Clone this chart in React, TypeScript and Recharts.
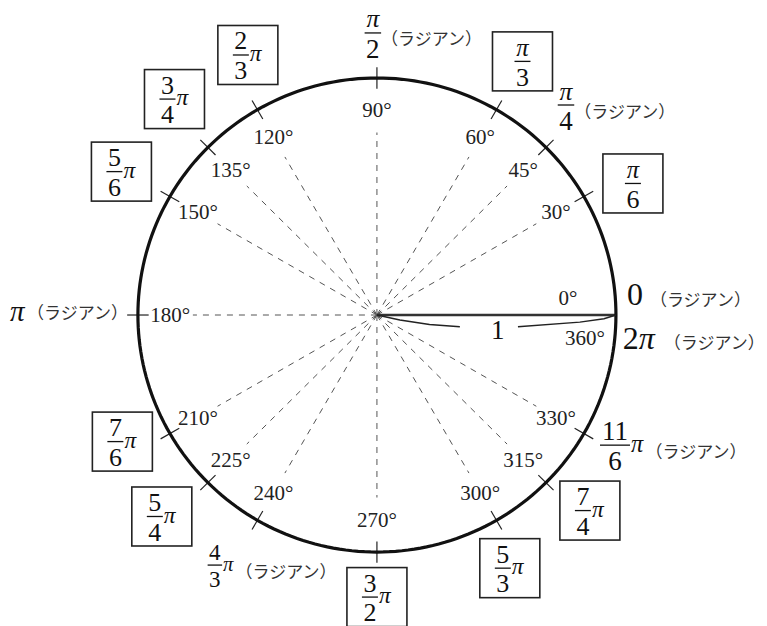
import React from "react";
import {
  ScatterChart,
  Scatter,
  XAxis,
  YAxis,
  ReferenceLine,
  ReferenceDot,
} from "recharts";

const W = 767;
const H = 626;
// unit circle in data space; domains set so that the centre lands at (377, 315)
const X_DOMAIN = [-1.577, 1.632];
const Y_DOMAIN = [-1.312, 1.329];

const SERIF = "'Liberation Serif', 'DejaVu Serif', serif";
const CJK = "'Noto Sans CJK JP', 'Noto Sans CJK SC', sans-serif";
const RAD = "（ラジアン）";
const RAD_FS = 17;

// angles marked on the circle (degrees)
const ANGLES = [30, 45, 60, 90, 120, 135, 150, 180, 210, 225, 240, 270, 300, 315, 330];
const DEGREE_LABELS = [
  "30°", "45°", "60°", "90°", "120°", "135°", "150°", "180°",
  "210°", "225°", "240°", "270°", "300°", "315°", "330°",
];
const ZERO_LABELS = ["0°", "360°"];
const ZERO_LABEL_POS = [
  { x: 0.799, y: 0.072 },
  { x: 0.87, y: -0.097 },
];

// radians written in boxes
const BOX_NUM = ["π", "2", "3", "5", "π", "7", "5", "3", "5", "7"];
const BOX_DEN = ["3", "3", "4", "6", "6", "6", "4", "2", "3", "4"];
const BOX_PI = [false, true, true, true, false, true, true, true, true, true];
const BOX_POS = [
  { x: 0.609, y: 1.07 },
  { x: -0.54, y: 1.097 },
  { x: -0.847, y: 0.911 },
  { x: -1.069, y: 0.605 },
  { x: 1.071, y: 0.555 },
  { x: -1.065, y: -0.534 },
  { x: -0.9, y: -0.85 },
  { x: 0, y: -1.19 },
  { x: 0.556, y: -1.068 },
  { x: 0.891, y: -0.825 },
];

// radians written out with (ラジアン)
const OPEN_NUM = ["π", "π", "11", "4"];
const OPEN_DEN = ["2", "4", "6", "3"];
const OPEN_PI = [false, false, true, true];
const OPEN_POS = [
  { x: -0.017, y: 1.19 },
  { x: 0.791, y: 0.886 },
  { x: 0.996, y: -0.549 },
  { x: -0.678, y: -1.055 },
];

// the "1" brace under the radius
const BRACE_LEFT = [
  { x: 0, y: 0 },
  { x: 0.096, y: -0.021 },
  { x: 0.22, y: -0.04 },
  { x: 0.347, y: -0.05 },
];
const BRACE_RIGHT = [
  { x: 0.59, y: -0.05 },
  { x: 0.849, y: -0.03 },
  { x: 0.95, y: -0.016 },
  { x: 1, y: 0 },
];

const CIRCLE = Array.from({ length: 241 }, (_, i) => ({
  x: Math.cos((i * Math.PI) / 120),
  y: Math.sin((i * Math.PI) / 120),
}));

const RAY_END = 0.77;
const LABEL_R = 0.865;
const TICK_IN = 0.955;
const TICK_OUT = 1.045;

const rad = (deg: number) => (deg * Math.PI) / 180;
const noDot = () => <g />;

function RadText({ x, y }: any) {
  return (
    <text x={x} y={y} dominantBaseline="central" fontFamily={CJK} fontSize={RAD_FS} fill="#333">
      {RAD}
    </text>
  );
}

function Frac({ x, y, num, den, pi, fs, showRad }: any) {
  const w = Math.max(num.length, den.length) * fs * 0.5 + 3;
  const isPi = num === "π";
  return (
    <g fontFamily={SERIF} fill="#111">
      <text
        x={x}
        y={y - 5.5}
        textAnchor="middle"
        fontSize={isPi ? fs * 0.95 : fs}
        fontStyle={isPi ? "italic" : "normal"}
      >
        {num}
      </text>
      <line x1={x - w / 2} x2={x + w / 2} y1={y} y2={y} stroke="#111" strokeWidth={1.3} />
      <text x={x} y={y + 6.5 + fs * 0.68} textAnchor="middle" fontSize={fs}>
        {den}
      </text>
      {pi && (
        <text x={x + w / 2 + 1} y={y + fs * 0.24} fontSize={fs * 0.9} fontStyle="italic">
          π
        </text>
      )}
      {showRad && <RadText x={x + w / 2 + (pi ? fs * 0.5 + 2 : 0)} y={y + 5} />}
    </g>
  );
}

function BoxLabel({ cx, cy, num, den, pi }: any) {
  return (
    <g>
      <rect x={cx - 30} y={cy - 29.5} width={60} height={59} fill="#fff" stroke="#222" strokeWidth={1.6} />
      <Frac x={pi ? cx - 7 : cx} y={cy} num={num} den={den} pi={pi} fs={26} />
    </g>
  );
}

export default function App() {
  return (
    <div style={{ position: "absolute", left: 0, top: 0, width: W, height: H, background: "#fff" }}>
      <ScatterChart width={W} height={H} margin={{ top: 0, right: 0, bottom: 0, left: 0 }}>
        <XAxis type="number" dataKey="x" domain={X_DOMAIN} hide allowDataOverflow />
        <YAxis type="number" dataKey="y" domain={Y_DOMAIN} hide allowDataOverflow />

        {ANGLES.map((a) => (
          <ReferenceLine
            key={`ray-${a}`}
            segment={[
              { x: 0, y: 0 },
              { x: RAY_END * Math.cos(rad(a)), y: RAY_END * Math.sin(rad(a)) },
            ]}
            stroke="#555"
            strokeWidth={1}
            strokeDasharray="6 6"
            ifOverflow="visible"
          />
        ))}
        {ANGLES.map((a) => (
          <ReferenceLine
            key={`tick-${a}`}
            segment={[
              { x: TICK_IN * Math.cos(rad(a)), y: TICK_IN * Math.sin(rad(a)) },
              { x: TICK_OUT * Math.cos(rad(a)), y: TICK_OUT * Math.sin(rad(a)) },
            ]}
            stroke="#222"
            strokeWidth={1.2}
            ifOverflow="visible"
          />
        ))}
        <ReferenceLine
          segment={[
            { x: 0, y: 0 },
            { x: 1, y: 0 },
          ]}
          stroke="#333"
          strokeWidth={2.5}
          ifOverflow="visible"
        />

        <Scatter
          data={CIRCLE}
          line={{ stroke: "#111", strokeWidth: 3.2 }}
          lineType="joint"
          shape={noDot}
          isAnimationActive={false}
        />
        <Scatter
          data={BRACE_LEFT}
          line={{ stroke: "#222", strokeWidth: 1.5 }}
          lineType="joint"
          shape={noDot}
          isAnimationActive={false}
        />
        <Scatter
          data={BRACE_RIGHT}
          line={{ stroke: "#222", strokeWidth: 1.5 }}
          lineType="joint"
          shape={noDot}
          isAnimationActive={false}
        />

        {ANGLES.map((a, i) => (
          <ReferenceDot
            key={`deg-${a}`}
            x={LABEL_R * Math.cos(rad(a))}
            y={LABEL_R * Math.sin(rad(a))}
            r={0}
            ifOverflow="visible"
            shape={(p: any) => (
              <text
                x={p.cx}
                y={p.cy}
                textAnchor="middle"
                dominantBaseline="central"
                fontFamily={SERIF}
                fontSize={21}
                fill="#222"
                stroke="#fff"
                strokeWidth={5}
                paintOrder="stroke"
              >
                {DEGREE_LABELS[i]}
              </text>
            )}
          />
        ))}
        {ZERO_LABELS.map((t, i) => (
          <ReferenceDot
            key={t}
            x={ZERO_LABEL_POS[i].x}
            y={ZERO_LABEL_POS[i].y}
            r={0}
            ifOverflow="visible"
            shape={(p: any) => (
              <text
                x={p.cx}
                y={p.cy}
                textAnchor="middle"
                dominantBaseline="central"
                fontFamily={SERIF}
                fontSize={21}
                fill="#222"
              >
                {t}
              </text>
            )}
          />
        ))}
        <ReferenceDot
          x={0.506}
          y={-0.063}
          r={0}
          ifOverflow="visible"
          shape={(p: any) => (
            <text x={p.cx} y={p.cy} textAnchor="middle" dominantBaseline="central" fontFamily={SERIF} fontSize={27} fill="#111">
              1
            </text>
          )}
        />

        {BOX_POS.map((pos, i) => (
          <ReferenceDot
            key={`box-${i}`}
            x={pos.x}
            y={pos.y}
            r={0}
            ifOverflow="visible"
            shape={(p: any) => (
              <BoxLabel cx={p.cx} cy={p.cy} num={BOX_NUM[i]} den={BOX_DEN[i]} pi={BOX_PI[i]} />
            )}
          />
        ))}
        {OPEN_POS.map((pos, i) => (
          <ReferenceDot
            key={`open-${i}`}
            x={pos.x}
            y={pos.y}
            r={0}
            ifOverflow="visible"
            shape={(p: any) => (
              <Frac
                x={p.cx}
                y={p.cy}
                num={OPEN_NUM[i]}
                den={OPEN_DEN[i]}
                pi={OPEN_PI[i]}
                fs={i === 3 ? 23 : 27}
                showRad
              />
            )}
          />
        ))}

        <ReferenceDot
          x={1.046}
          y={0.089}
          r={0}
          ifOverflow="visible"
          shape={(p: any) => (
            <g>
              <text x={p.cx} y={p.cy} dominantBaseline="central" fontFamily={SERIF} fontSize={32} fill="#111">
                0
              </text>
              <RadText x={p.cx + 23} y={p.cy + 5} />
            </g>
          )}
        />
        <ReferenceDot
          x={1.029}
          y={-0.097}
          r={0}
          ifOverflow="visible"
          shape={(p: any) => (
            <g>
              <text x={p.cx} y={p.cy} dominantBaseline="central" fontFamily={SERIF} fontSize={32} fill="#111">
                2<tspan fontStyle="italic">π</tspan>
              </text>
              <RadText x={p.cx + 41} y={p.cy + 3} />
            </g>
          )}
        />
        <ReferenceDot
          x={-1.535}
          y={0.017}
          r={0}
          ifOverflow="visible"
          shape={(p: any) => (
            <g>
              <text x={p.cx} y={p.cy} dominantBaseline="central" fontFamily={SERIF} fontSize={29} fontStyle="italic" fill="#111">
                π
              </text>
              <RadText x={p.cx + 17} y={p.cy + 1} />
            </g>
          )}
        />
      </ScatterChart>
    </div>
  );
}
